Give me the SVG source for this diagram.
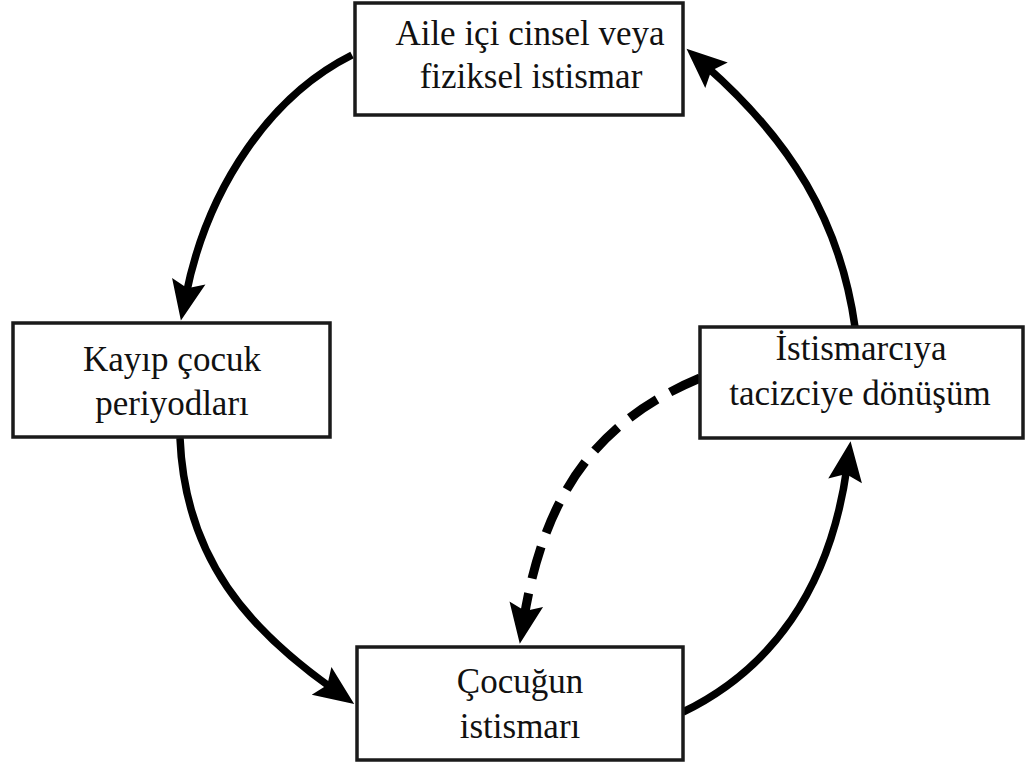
<svg xmlns="http://www.w3.org/2000/svg" width="1027" height="770" viewBox="0 0 1027 770">
<style>
.box{fill:#fff;stroke:#1a1a1a;stroke-width:3.5}
.lbl{font-family:"Liberation Serif","Times New Roman",serif;font-size:35px;fill:#111;text-anchor:middle}
.edge{fill:none;stroke:#000;stroke-width:7.5}
.dash{fill:none;stroke:#000;stroke-width:9;stroke-dasharray:33 15}
</style>
<defs>
<marker id="ah" markerUnits="userSpaceOnUse" markerWidth="60" markerHeight="44" viewBox="-20 -22 60 44" refX="0" refY="0" orient="auto">
<path d="M26,0 L-14,-17 L-7,0 L-14,17 Z" fill="#000"/>
</marker>
</defs>
<rect width="1027" height="770" fill="#fff"/>
<g id="connectors">
<path class="edge" d="M352,55 C272,95 208,185 186,295" marker-end="url(#ah)"/>
<path class="edge" d="M180,438 C185,560 250,630 333,689" marker-end="url(#ah)"/>
<path class="edge" d="M683,712 C770,670 830,590 847,467" marker-end="url(#ah)"/>
<path class="edge" d="M855,327 C840,220 790,140 706,66" marker-end="url(#ah)"/>
<path class="dash" d="M700,378 C600,420 545,490 524,618" marker-end="url(#ah)"/>
</g>
<g id="node-top">
<rect class="box" x="355" y="3" width="328" height="112"/>
<text class="lbl" x="530" y="45">Aile içi cinsel veya</text>
<text class="lbl" x="531" y="88">fiziksel istismar</text>
</g>
<g id="node-left">
<rect class="box" x="13" y="323" width="317" height="114"/>
<text class="lbl" x="172" y="371">Kayıp çocuk</text>
<text class="lbl" x="172" y="415">periyodları</text>
</g>
<g id="node-right">
<rect class="box" x="700" y="327" width="323" height="111"/>
<text class="lbl" x="861" y="360">İstismarcıya</text>
<text class="lbl" x="860" y="405">tacizciye dönüşüm</text>
</g>
<g id="node-bottom">
<rect class="box" x="357" y="647" width="326" height="113"/>
<text class="lbl" x="520" y="693">Çocuğun</text>
<text class="lbl" x="520" y="738">istismarı</text>
</g>
</svg>
